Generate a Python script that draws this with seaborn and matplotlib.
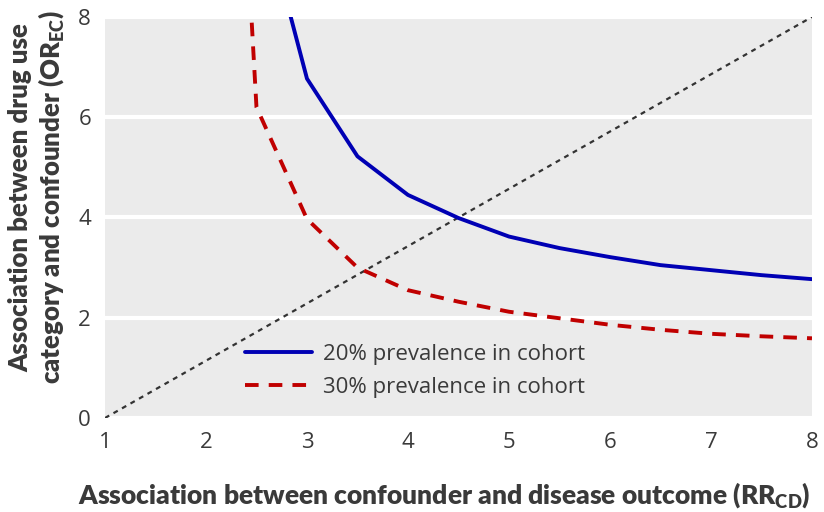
import numpy as np
import pandas as pd
import matplotlib
matplotlib.use("Agg")
import matplotlib.pyplot as plt
import seaborn as sns

# values (RR_CD on x, OR_EC on y)
rr_20 = [2.5, 3.0, 3.5, 4.0, 4.5, 5.0, 5.5, 6.0, 6.5, 7.0, 7.5, 8.0]
or_20 = [10.6, 6.77, 5.22, 4.45, 3.99, 3.62, 3.39, 3.21, 3.05, 2.95, 2.85, 2.77]

rr_30 = [2.0, 2.5, 3.0, 3.5, 4.0, 4.5, 5.0, 5.5, 6.0, 6.5, 7.0, 7.5, 8.0]
or_30 = [24.2, 6.2, 3.97, 3.0, 2.55, 2.32, 2.12, 1.99, 1.86, 1.76, 1.68, 1.63, 1.59]

diag_x = [1, 8]
diag_y = [0, 8]

x_ticks = [1, 2, 3, 4, 5, 6, 7, 8]
y_ticks = [0, 2, 4, 6, 8]

TEXT = "#3a3a3a"
BLUE = "#0000b4"
RED = "#c00000"

sns.set_theme(style="darkgrid", rc={"axes.facecolor": "#ebebeb"})
plt.rcParams["font.family"] = ["Open Sans", "DejaVu Sans"]
plt.rcParams["mathtext.fontset"] = "custom"
plt.rcParams["mathtext.rm"] = "Lato"
plt.rcParams["mathtext.bf"] = "Lato:heavy"

fig = plt.figure(figsize=(8.24, 5.12), dpi=100)
ax = fig.add_axes([0.1274, 0.1836, 0.858, 0.7832])

df20 = pd.DataFrame({"rr": rr_20, "or": or_20})
df30 = pd.DataFrame({"rr": rr_30, "or": or_30})
dfd = pd.DataFrame({"rr": diag_x, "or": diag_y})

sns.lineplot(data=dfd, x="rr", y="or", ax=ax, color="#333333", linewidth=1.6)
sns.lineplot(data=df20, x="rr", y="or", ax=ax, color=BLUE, linewidth=2.8,
             label="20% prevalence in cohort")
sns.lineplot(data=df30, x="rr", y="or", ax=ax, color=RED, linewidth=2.8,
             label="30% prevalence in cohort")
ax.lines[0].set_dashes((2.2, 2.2))
ax.lines[2].set_dashes((3.5, 2.6))

ax.set_xlim(1, 8)
ax.set_ylim(0, 8)
ax.set_xticks(x_ticks)
ax.set_yticks(y_ticks)
ax.grid(axis="x", visible=False)
ax.grid(axis="y", color="white", linewidth=3)
for s in ax.spines.values():
    s.set_visible(False)

ax.tick_params(axis="x", direction="in", length=5, width=2, color="white",
               pad=10, labelsize=16, labelcolor=TEXT)
ax.tick_params(axis="y", length=0, pad=10, labelsize=16, labelcolor=TEXT)

lab_font = dict(family=["Lato", "DejaVu Sans"], fontsize=19, fontweight="heavy", color=TEXT)
ax.set_xlabel(r"Association between confounder and disease outcome (RR$_{\mathbf{CD}}$)", **lab_font)
ax.set_ylabel("Association between drug use\n" + r"category and confounder (OR$_{\mathbf{EC}}$)",
              linespacing=1.15, **{**lab_font, "fontsize": 18.5})
ax.xaxis.set_label_coords(0.48, -0.155)
ax.yaxis.set_label_coords(-0.055, 0.55)

leg = ax.legend(loc="lower left", bbox_to_anchor=(0.17, 0.0), frameon=False,
                fontsize=16, handlelength=3.0, handletextpad=0.5, labelspacing=0.55)
for t in leg.get_texts():
    t.set_color(TEXT)

fig.savefig("out.png", dpi=100)
